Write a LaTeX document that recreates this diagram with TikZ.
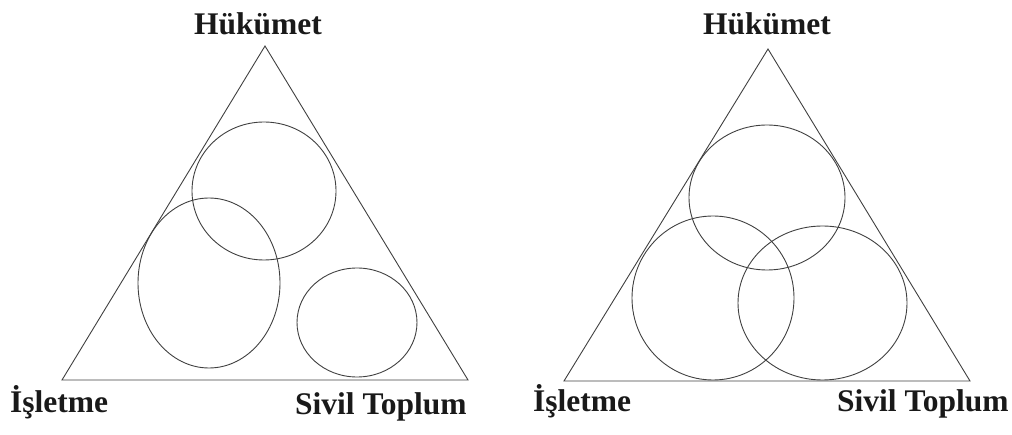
\documentclass[tikz,border=0pt]{standalone}
\usepackage{fontspec}
\setmainfont{Liberation Serif}
\begin{document}
\begin{tikzpicture}[x=1pt,y=-1pt,
  edge/.style={draw=black!75,line width=0.9pt},
  lbl/.style={font=\fontsize{31.5}{33}\selectfont\bfseries,inner sep=0pt,text=black!90}]
\useasboundingbox (0,0) rectangle (1012,435);
% left triangle
\coordinate (LA) at (265,46);
\coordinate (LB) at (62,380);
\coordinate (LC) at (468,380);
\draw[edge] (LA) -- (LB) -- (LC) -- cycle;
\draw[edge] (264,191) ellipse [x radius=72, y radius=69];
\draw[edge] (209,283) ellipse [x radius=71, y radius=85];
\draw[edge] (357,322.5) ellipse [x radius=60, y radius=54.5];
\node[lbl,anchor=base] (lh) at (258,35) {Hükümet};
\node[lbl,anchor=base west] (li) at (10,413) {İşletme};
\node[lbl,anchor=base west] (ls) at (295,414) {Sivil Toplum};
% right triangle
\coordinate (RA) at (768,49);
\coordinate (RB) at (564,381);
\coordinate (RC) at (970,381);
\draw[edge] (RA) -- (RB) -- (RC) -- cycle;
\draw[edge] (767,197.5) ellipse [x radius=78, y radius=72.5];
\draw[edge] (713,298) ellipse [x radius=81, y radius=82];
\draw[edge] (822.5,303) ellipse [x radius=84.5, y radius=77];
\node[lbl,anchor=base] (rh) at (767,35) {Hükümet};
\node[lbl,anchor=base west] (ri) at (533,412) {İşletme};
\node[lbl,anchor=base west] (rs) at (837,412) {Sivil Toplum};
\end{tikzpicture}
\end{document}
